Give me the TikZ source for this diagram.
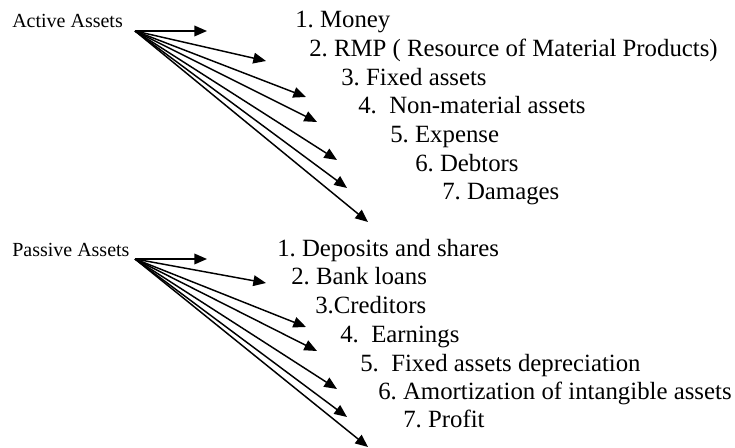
\documentclass[tikz,border=0pt]{standalone}
\usepackage{fontspec}
\setmainfont{Liberation Serif}
\usetikzlibrary{arrows.meta}

\begin{document}
\begin{tikzpicture}[
    x=0.75pt, y=-0.75pt,
    head/.style={font=\fontsize{15}{18}\selectfont\frenchspacing, anchor=base west, inner sep=0pt},
    item/.style={font=\fontsize{18.6}{22}\selectfont\frenchspacing, anchor=base west, inner sep=0pt},
    arr/.style={-{Triangle[length=9.5pt,width=8pt]}, line width=1.1pt}
]
\useasboundingbox (0,0) rectangle (735,448);

% Active assets
\node[head] (act) at (12,28) {Active Assets};
\coordinate (ao) at (135,31);

\node[item] (a1) at (295,28) {1. Money};
\node[item] (a2) at (309,57) {2. RMP ( Resource of Material Products)};
\node[item] (a3) at (341,86) {3. Fixed assets};
\node[item] (a4) at (358,114) {4.\ \ Non-material assets};
\node[item] (a5) at (390,143) {5. Expense};
\node[item] (a6) at (415,172) {6. Debtors};
\node[item] (a7) at (442,200) {7. Damages};

% Arrows (active)
\foreach \n/\x/\y in {1/207/31,2/266/61,3/306/97,4/317/122,5/337/160,6/347/188,7/368/222}
    \coordinate (ta\n) at (\x,\y);
\foreach \n in {1,...,7}
    \draw[arr] (ao) -- (ta\n);

% Passive assets
\node[head] (pas) at (12,257) {Passive Assets};
\coordinate (po) at (135,259);

\node[item] (p1) at (277,257) {1. Deposits and shares};
\node[item] (p2) at (291,285) {2. Bank loans};
\node[item] (p3) at (315,314) {3.Creditors};
\node[item] (p4) at (340,343) {4.\ \ Earnings};
\node[item] (p5) at (360,372) {5.\ \ Fixed assets depreciation};
\node[item] (p6) at (378,400) {6. Amortization of intangible assets};
\node[item] (p7) at (403,428) {7. Profit};

% Arrows (passive)
\foreach \n/\x/\y in {1/207/259,2/266/283,3/306/327,4/317/351,5/337/389,6/347/417,7/368/447}
    \coordinate (tp\n) at (\x,\y);
\foreach \n in {1,...,7}
    \draw[arr] (po) -- (tp\n);

\end{tikzpicture}
\end{document}
